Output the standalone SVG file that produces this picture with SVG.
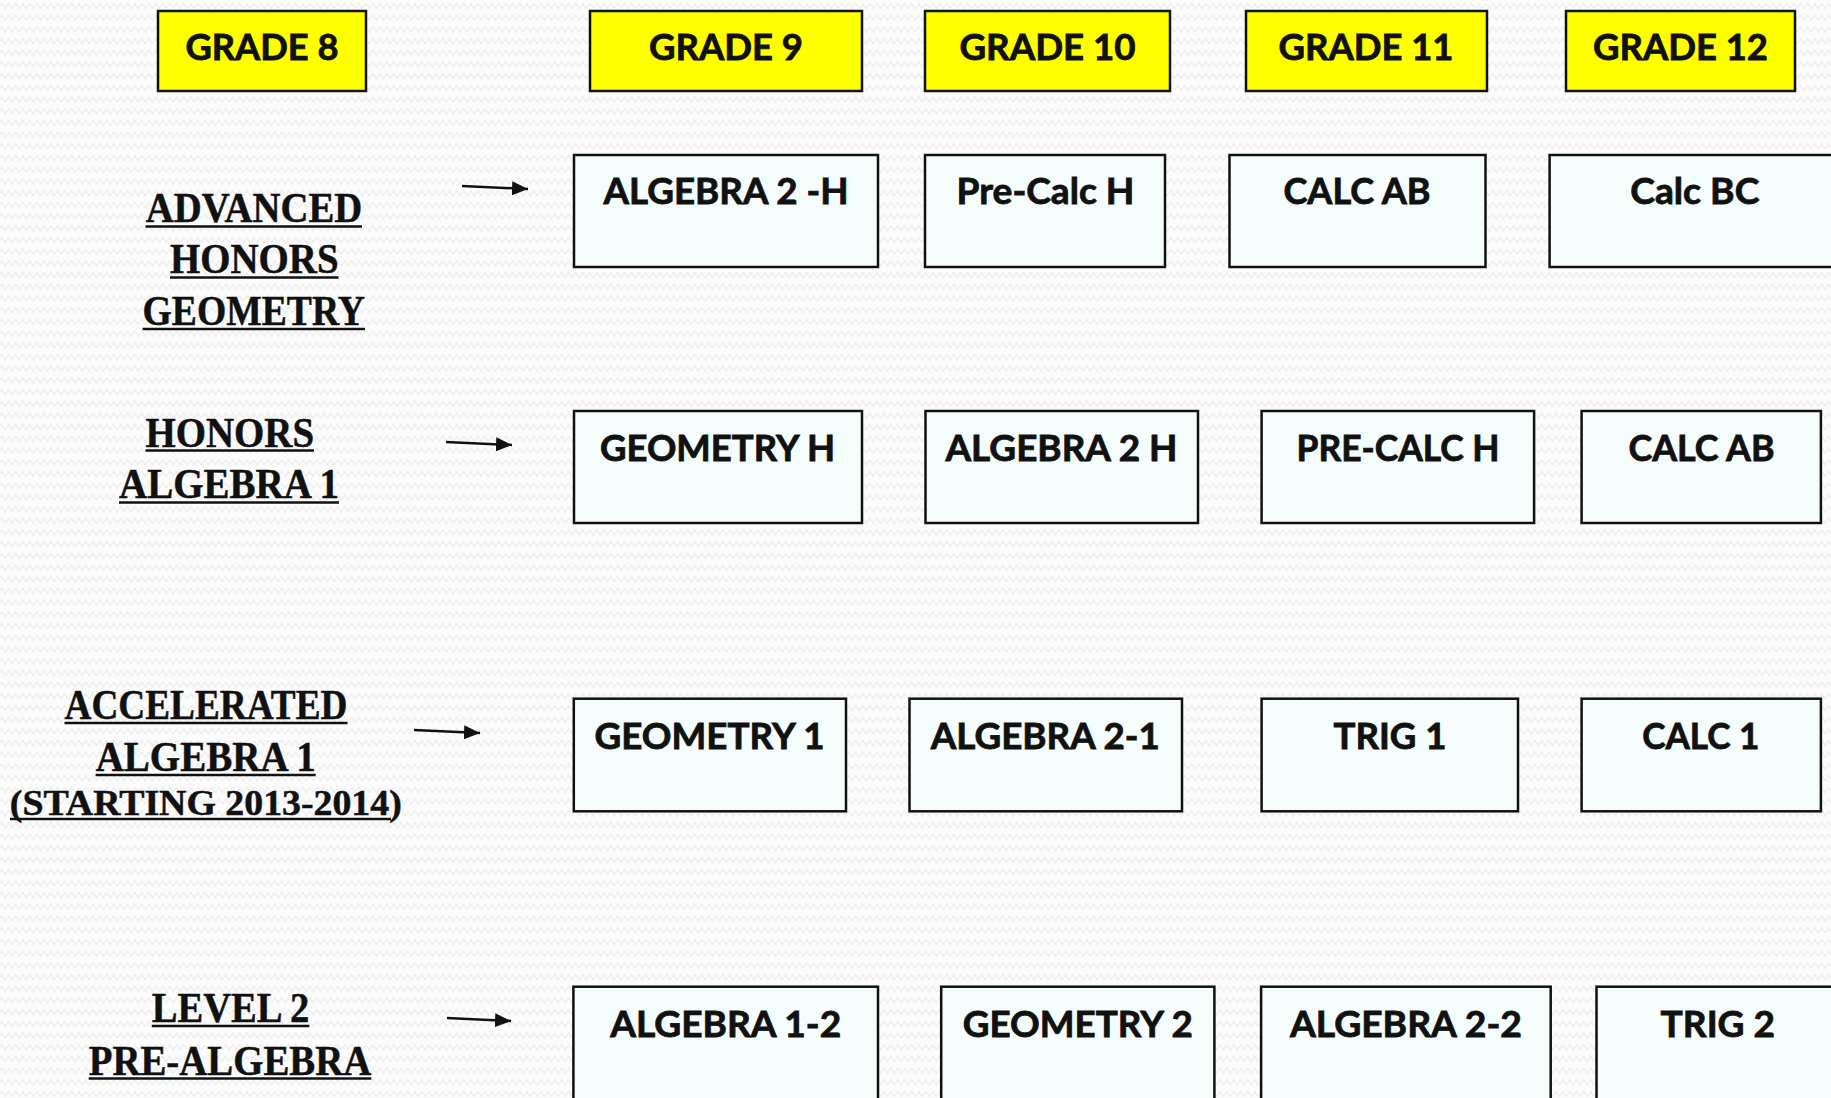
<svg xmlns="http://www.w3.org/2000/svg" width="1831" height="1098" viewBox="0 0 1831 1098">
<defs>
<pattern id="bg" width="7" height="11.7" patternUnits="userSpaceOnUse">
<rect width="7" height="11.7" fill="#fcfcfc"/>
<path d="M0,6 L1.75,3.5 L3.5,6 L5.25,8.5 L7,6" fill="none" stroke="#ececec" stroke-width="1.2"/>
</pattern>
<marker id="ah" markerUnits="userSpaceOnUse" markerWidth="17" markerHeight="15" refX="16" refY="7" orient="auto">
<path d="M0,0 L16,7 L0,14 z" fill="#111"/>
</marker>
<style>
.grade rect{fill:#ffff00;stroke:#111;stroke-width:2.5}
.course rect{fill:#f5fcfc;stroke:#111;stroke-width:2.5}
.sans{font-family:Lato,"Open Sans","Liberation Sans",sans-serif;font-weight:700;font-size:36px;fill:#111;stroke:#111;stroke-width:0.8;text-anchor:middle}
.serif{font-family:"Liberation Serif","DejaVu Serif",serif;font-weight:700;font-size:43px;fill:#111;stroke:#111;stroke-width:0.5;text-anchor:middle}
.small{font-size:36px}
.ul{stroke:#111;stroke-width:2.5}
.conn line{stroke:#111;stroke-width:2.5;marker-end:url(#ah)}
</style>
</defs>
<rect width="1831" height="1098" fill="url(#bg)"/>

<!-- grade headers -->
<g id="grade8" class="grade"><rect x="158" y="11" width="208" height="80"/><text class="sans" x="262" y="60" textLength="153" lengthAdjust="spacingAndGlyphs">GRADE 8</text></g>
<g id="grade9" class="grade"><rect x="590" y="11" width="272" height="80"/><text class="sans" x="726" y="60" textLength="154" lengthAdjust="spacingAndGlyphs">GRADE 9</text></g>
<g id="grade10" class="grade"><rect x="925" y="11" width="245" height="80"/><text class="sans" x="1047.5" y="60" textLength="176" lengthAdjust="spacingAndGlyphs">GRADE 10</text></g>
<g id="grade11" class="grade"><rect x="1246" y="11" width="241" height="80"/><text class="sans" x="1366" y="60" textLength="175" lengthAdjust="spacingAndGlyphs">GRADE 11</text></g>
<g id="grade12" class="grade"><rect x="1566" y="11" width="229" height="80"/><text class="sans" x="1680.5" y="60" textLength="175" lengthAdjust="spacingAndGlyphs">GRADE 12</text></g>

<!-- row labels -->
<g id="label-advanced">
<text class="serif" x="254" y="221.5" textLength="216.5" lengthAdjust="spacingAndGlyphs">ADVANCED</text>
<line class="ul" x1="145.5" y1="226.5" x2="362" y2="226.5"/>
<text class="serif" x="254.3" y="273.3" textLength="168.6" lengthAdjust="spacingAndGlyphs">HONORS</text>
<line class="ul" x1="170" y1="277.5" x2="338.6" y2="277.5"/>
<text class="serif" x="253.8" y="325" textLength="222.4" lengthAdjust="spacingAndGlyphs">GEOMETRY</text>
<line class="ul" x1="142.6" y1="329" x2="365" y2="329"/>
</g>
<g id="label-honors">
<text class="serif" x="229.8" y="446.7" textLength="168.5" lengthAdjust="spacingAndGlyphs">HONORS</text>
<line class="ul" x1="145.5" y1="450.5" x2="314" y2="450.5"/>
<text class="serif" x="229" y="498.3" textLength="220" lengthAdjust="spacingAndGlyphs">ALGEBRA 1</text>
<line class="ul" x1="119" y1="502.5" x2="339" y2="502.5"/>
</g>
<g id="label-accelerated">
<text class="serif" x="206" y="719" textLength="283" lengthAdjust="spacingAndGlyphs">ACCELERATED</text>
<line class="ul" x1="64.5" y1="723" x2="347.5" y2="723"/>
<text class="serif" x="205.7" y="771" textLength="220" lengthAdjust="spacingAndGlyphs">ALGEBRA 1</text>
<line class="ul" x1="95.6" y1="775" x2="315.7" y2="775"/>
<text class="serif small" x="205.8" y="815" textLength="392" lengthAdjust="spacingAndGlyphs">(STARTING 2013-2014)</text>
<line class="ul" x1="10" y1="819" x2="391" y2="819"/>
</g>
<g id="label-level2">
<text class="serif" x="230.6" y="1021.7" textLength="157.6" lengthAdjust="spacingAndGlyphs">LEVEL 2</text>
<line class="ul" x1="151.8" y1="1026" x2="309.4" y2="1026"/>
<text class="serif" x="230" y="1075" textLength="282.6" lengthAdjust="spacingAndGlyphs">PRE-ALGEBRA</text>
<line class="ul" x1="88.7" y1="1078.5" x2="371.3" y2="1078.5"/>
</g>

<!-- row 1 -->
<g id="alg2h-r1" class="course"><rect x="574" y="155" width="304" height="112"/><text class="sans" x="726" y="204" textLength="245" lengthAdjust="spacingAndGlyphs">ALGEBRA 2 -H</text></g>
<g id="precalch-r1" class="course"><rect x="925" y="155" width="240" height="112"/><text class="sans" x="1045.5" y="204" textLength="178" lengthAdjust="spacingAndGlyphs">Pre-Calc H</text></g>
<g id="calcab-r1" class="course"><rect x="1229.5" y="155" width="256" height="112"/><text class="sans" x="1357" y="204" textLength="147" lengthAdjust="spacingAndGlyphs">CALC AB</text></g>
<g id="calcbc-r1" class="course"><rect x="1549.6" y="155" width="290" height="112"/><text class="sans" x="1694.8" y="204" textLength="129" lengthAdjust="spacingAndGlyphs">Calc BC</text></g>

<!-- row 2 -->
<g id="geomh-r2" class="course"><rect x="574" y="411" width="288" height="112"/><text class="sans" x="717.5" y="461" textLength="235" lengthAdjust="spacingAndGlyphs">GEOMETRY H</text></g>
<g id="alg2h-r2" class="course"><rect x="925.5" y="411" width="272.5" height="112"/><text class="sans" x="1061.5" y="461" textLength="232" lengthAdjust="spacingAndGlyphs">ALGEBRA 2 H</text></g>
<g id="precalch-r2" class="course"><rect x="1261.6" y="411" width="272.5" height="112"/><text class="sans" x="1398" y="461" textLength="203" lengthAdjust="spacingAndGlyphs">PRE-CALC H</text></g>
<g id="calcab-r2" class="course"><rect x="1581.6" y="411" width="239.3" height="112"/><text class="sans" x="1701.5" y="461" textLength="146" lengthAdjust="spacingAndGlyphs">CALC AB</text></g>

<!-- row 3 -->
<g id="geom1-r3" class="course"><rect x="573.8" y="698.7" width="272.2" height="112.6"/><text class="sans" x="709.5" y="749" textLength="230" lengthAdjust="spacingAndGlyphs">GEOMETRY 1</text></g>
<g id="alg21-r3" class="course"><rect x="909.5" y="698.7" width="272.5" height="112.6"/><text class="sans" x="1045.3" y="749" textLength="229" lengthAdjust="spacingAndGlyphs">ALGEBRA 2-1</text></g>
<g id="trig1-r3" class="course"><rect x="1261.6" y="698.7" width="256.4" height="112.6"/><text class="sans" x="1390" y="749" textLength="113" lengthAdjust="spacingAndGlyphs">TRIG 1</text></g>
<g id="calc1-r3" class="course"><rect x="1581.6" y="698.7" width="239.3" height="112.6"/><text class="sans" x="1700.8" y="749" textLength="117" lengthAdjust="spacingAndGlyphs">CALC 1</text></g>

<!-- row 4 -->
<g id="alg12-r4" class="course"><rect x="573.4" y="986.7" width="304.6" height="130"/><text class="sans" x="725.7" y="1036.5" textLength="231" lengthAdjust="spacingAndGlyphs">ALGEBRA 1-2</text></g>
<g id="geom2-r4" class="course"><rect x="941.2" y="986.7" width="273.2" height="130"/><text class="sans" x="1077.8" y="1036.5" textLength="230" lengthAdjust="spacingAndGlyphs">GEOMETRY 2</text></g>
<g id="alg22-r4" class="course"><rect x="1261.1" y="986.7" width="289.6" height="130"/><text class="sans" x="1405.9" y="1036.5" textLength="232" lengthAdjust="spacingAndGlyphs">ALGEBRA 2-2</text></g>
<g id="trig2-r4" class="course"><rect x="1596.5" y="986.7" width="245" height="130"/><text class="sans" x="1717.8" y="1036.5" textLength="114.5" lengthAdjust="spacingAndGlyphs">TRIG 2</text></g>

<!-- connectors -->
<g id="connectors" class="conn">
<line x1="462" y1="186" x2="528" y2="189"/>
<line x1="446" y1="442" x2="512" y2="445"/>
<line x1="414" y1="730" x2="480" y2="733"/>
<line x1="447" y1="1018" x2="511" y2="1021"/>
</g>
</svg>
